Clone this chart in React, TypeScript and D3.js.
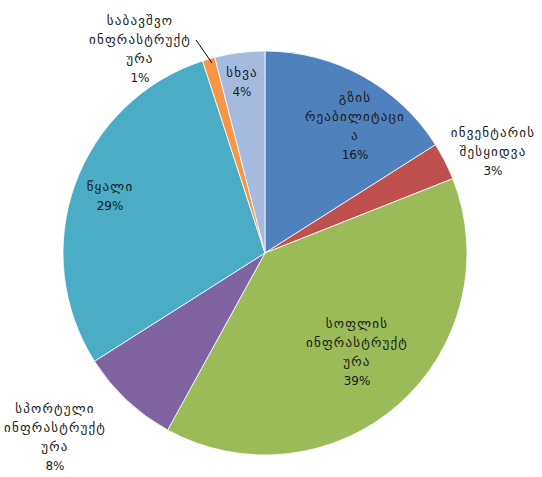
import React from "react";
import * as d3 from "d3";

const categories = [
  "გზის რეაბილიტაცია",
  "ინვენტარის შესყიდვა",
  "სოფლის ინფრასტრუქტურა",
  "სპორტული ინფრასტრუქტურა",
  "წყალი",
  "საბავშვო ინფრასტრუქტურა",
  "სხვა",
];
const values = [16, 3, 39, 8, 29, 1, 4];
const labelLines = [
  ["გზის", "რეაბილიტაცი", "ა", "16%"],
  ["ინვენტარის", "შესყიდვა", "3%"],
  ["სოფლის", "ინფრასტრუქტ", "ურა", "39%"],
  ["სპორტული", "ინფრასტრუქტ", "ურა", "8%"],
  ["წყალი", "29%"],
  ["საბავშვო", "ინფრასტრუქტ", "ურა", "1%"],
  ["სხვა", "4%"],
];
const colors = ["#4F81BD", "#C0504D", "#9BBB59", "#8064A2", "#4BACC6", "#F79646", "#A5BADF"];

// label anchor points (centre of text block) in pixels
const labelPos: [number, number][] = [
  [355, 126],
  [493, 152],
  [357, 352],
  [55, 437],
  [110, 196],
  [140, 49],
  [242, 82],
];

export default function App() {
  const W = 542, H = 477;
  const cx = 265, cy = 253, r = 202;
  const pie = d3.pie<number>().sort(null).value((d) => d)(values);
  const arc = d3.arc<d3.PieArcDatum<number>>().innerRadius(0).outerRadius(r);
  const lh = 19;
  return (
    <svg width={W} height={H} style={{ position: "absolute", left: 0, top: 0, background: "#fff" }}
      fontFamily="DejaVu Sans" fontSize={12}>
      <g transform={`translate(${cx},${cy})`}>
        {pie.map((p, i) => (
          <path key={categories[i]} d={arc(p) || ""} fill={colors[i]} stroke="#fff" strokeWidth={0.8} />
        ))}
      </g>
      <line x1={196} y1={40} x2={212} y2={63} stroke="#000" strokeWidth={1} />
      {labelLines.map((lines, i) => {
        const [x, y] = labelPos[i];
        const y0 = y - ((lines.length - 1) * lh) / 2;
        return (
          <text key={i} x={x} y={y0} textAnchor="middle" fill="#1a1a1a" dominantBaseline="middle">
            {lines.map((l, j) => {
              const isPct = l.endsWith("%");
              return (
                <tspan key={j} x={x} y={y0 + j * lh}
                  fontSize={isPct ? 12 : 13} letterSpacing={isPct ? 0 : 1.2}>{l}</tspan>
              );
            })}
          </text>
        );
      })}
    </svg>
  );
}
